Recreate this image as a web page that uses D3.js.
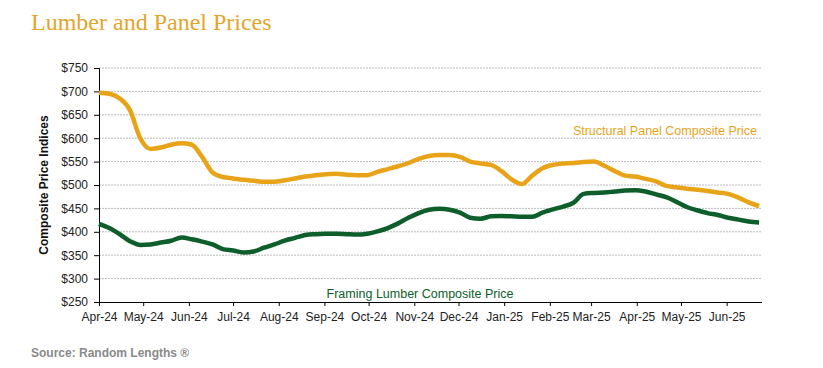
<!DOCTYPE html>
<html><head><meta charset="utf-8">
<script src="https://cdn.jsdelivr.net/npm/d3@7"></script>
<style>
body{margin:0;background:#fff;}
svg{display:block;font-family:"Liberation Sans",Arial,sans-serif;}
</style></head>
<body><svg id="c" width="823" height="368"></svg>
<script>
const startDate = "2024-04-01";
const panelPrices = [697,695,685,660,600,577,580,586,589,586,560,527,517,514,511,509,507,507,510,514,518,521,523,524,522,521,521,528,534,540,547,556,562,564,564,560,550,546,543,530,512,502,520,536,543,546,547,549,550,541,530,520,518,513,508,498,495,492,490,487,484,481,473,463,455];
const lumberPrices = [417,408,395,380,372,373,377,381,388,384,379,373,363,360,356,358,366,373,381,387,393,395,396,396,395,394,396,401,408,418,430,440,447,449,447,441,430,428,433,434,433,432,432,441,448,454,462,481,483,484,486,488,489,486,480,474,464,453,446,440,436,430,426,422,420];
const yTicks = [250,300,350,400,450,500,550,600,650,700,750];
const monthTicks = ["2024-04-01","2024-05-01","2024-06-01","2024-07-01","2024-08-01","2024-09-01","2024-10-01","2024-11-01","2024-12-01","2025-01-01","2025-02-01","2025-03-01","2025-04-01","2025-05-01","2025-06-01"];
const monthLabels = ["Apr-24","May-24","Jun-24","Jul-24","Aug-24","Sep-24","Oct-24","Nov-24","Dec-24","Jan-25","Feb-25","Mar-25","Apr-25","May-25","Jun-25"];

const parse = d3.utcParse("%Y-%m-%d");
const t0 = parse(startDate);
const dates = panelPrices.map((_, i) => d3.utcDay.offset(t0, 7 * i));
const svg = d3.select("#c");
const L = 99, R = 762, T = 68, B = 302;
const x = d3.scaleUtc().domain([t0, d3.utcDay.offset(t0, 450)]).range([L, R]);
const y = d3.scaleLinear().domain([250, 750]).range([B, T]);
const orange = "#E9A318", green = "#0E5E2B";

// title
svg.append("text").attr("x", 31).attr("y", 30).attr("fill", "#E3A52A")
  .style("font-family", "'Liberation Serif','DejaVu Serif',serif").style("font-size", "24px")
  .text("Lumber and Panel Prices");

// grid
svg.append("g").selectAll("line").data(yTicks.filter(v => v > 250)).join("line")
  .attr("x1", L).attr("x2", R).attr("y1", d => y(d)).attr("y2", d => y(d))
  .attr("stroke", "#bbb").attr("stroke-width", 1).attr("stroke-dasharray", "2,1");

// y axis
const ya = svg.append("g").attr("transform", `translate(${L},0)`)
  .call(d3.axisLeft(y).tickValues(yTicks).tickSize(5).tickPadding(6).tickFormat(d => "$" + d));
ya.select(".domain").attr("stroke", "#000");
ya.selectAll("text").style("font-size", "12px").attr("fill", "#222");

// x axis
const xa = svg.append("g").attr("transform", `translate(0,${B})`)
  .call(d3.axisBottom(x).tickValues(monthTicks.map(parse)).tickSize(4).tickPadding(6)
    .tickFormat((d, i) => monthLabels[i]));
xa.select(".domain").attr("stroke", "#000").attr("d", `M${L},0.5H${R}`);
xa.selectAll("text").style("font-size", "12px").attr("fill", "#222");

// y label
svg.append("text").attr("transform", `translate(48,${(T + B) / 2}) rotate(-90)`)
  .attr("text-anchor", "middle").style("font-size", "12px").style("font-weight", "bold")
  .attr("fill", "#111").text("Composite Price Indices");

const line = d3.line().x((d, i) => x(dates[i])).y(d => y(d)).curve(d3.curveMonotoneX);
svg.append("path").datum(panelPrices).attr("d", line).attr("fill", "none")
  .attr("stroke", orange).attr("stroke-width", 4.5).attr("stroke-linejoin", "round");
svg.append("path").datum(lumberPrices).attr("d", line).attr("fill", "none")
  .attr("stroke", green).attr("stroke-width", 4.5).attr("stroke-linejoin", "round");

svg.append("text").attr("x", 757).attr("y", 135).attr("text-anchor", "end")
  .attr("fill", orange).style("font-size", "12.5px").text("Structural Panel Composite Price");
svg.append("text").attr("x", 420).attr("y", 298).attr("text-anchor", "middle")
  .attr("fill", green).style("font-size", "12.5px").text("Framing Lumber Composite Price");

svg.append("text").attr("x", 31).attr("y", 357).attr("fill", "#8a8a8a")
  .style("font-size", "12px").style("font-weight", "bold").text("Source: Random Lengths ®");
</script></body></html>
